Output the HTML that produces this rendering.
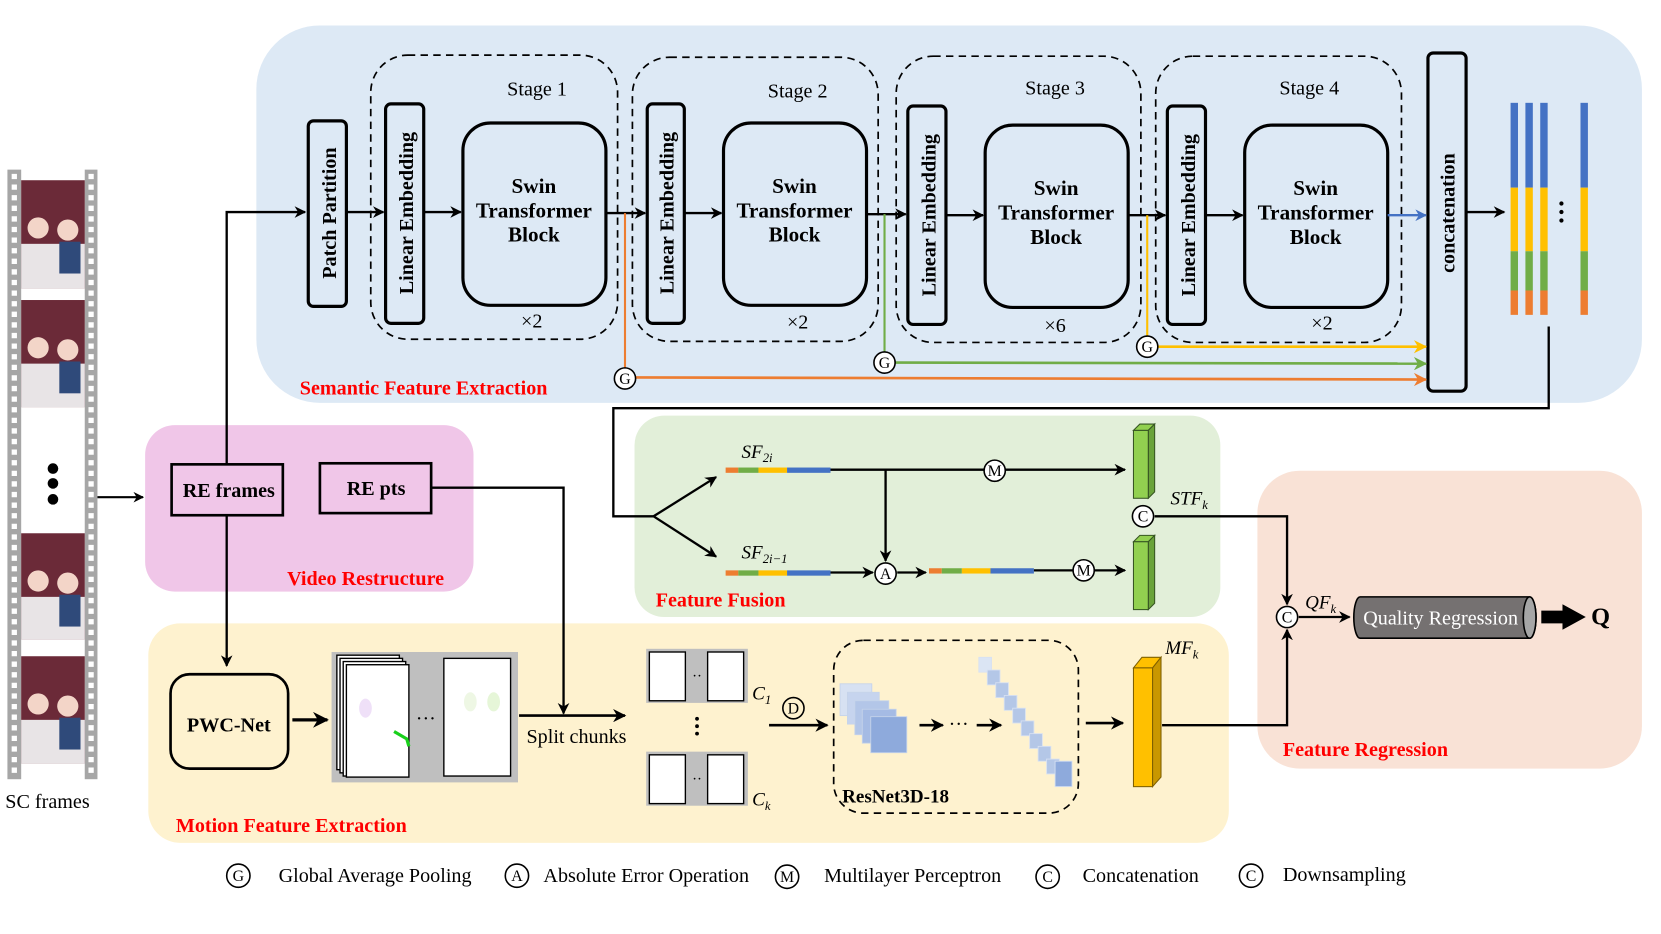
<!DOCTYPE html>
<html><head><meta charset="utf-8"><style>html,body{margin:0;padding:0;background:#fff}svg{display:block}</style></head>
<body>
<svg width="1661" height="934" viewBox="0 0 1568 881" preserveAspectRatio="none" xmlns="http://www.w3.org/2000/svg" font-family="Liberation Serif, serif">
<defs>
<marker id="ah" viewBox="0 0 10 10" refX="9" refY="5" markerWidth="5" markerHeight="5" orient="auto"><path d="M0,0 L10,5 L0,10 L3,5z" fill="#000"/></marker>
<marker id="ao" viewBox="0 0 10 10" refX="9" refY="5" markerWidth="5" markerHeight="5" orient="auto"><path d="M0,0 L10,5 L0,10 L3,5z" fill="#ed7d31"/></marker>
<marker id="ag" viewBox="0 0 10 10" refX="9" refY="5" markerWidth="5" markerHeight="5" orient="auto"><path d="M0,0 L10,5 L0,10 L3,5z" fill="#70ad47"/></marker>
<marker id="ay" viewBox="0 0 10 10" refX="9" refY="5" markerWidth="5" markerHeight="5" orient="auto"><path d="M0,0 L10,5 L0,10 L3,5z" fill="#ffc000"/></marker>
<marker id="ab" viewBox="0 0 10 10" refX="9" refY="5" markerWidth="5" markerHeight="5" orient="auto"><path d="M0,0 L10,5 L0,10 L3,5z" fill="#4472c4"/></marker>
</defs>
<rect x="242" y="24" width="1308" height="356" rx="60" fill="#dde9f5"/>
<rect x="137" y="401" width="310" height="157" rx="28" fill="#f0c6e8"/>
<rect x="140" y="588" width="1020" height="207" rx="30" fill="#fef2cf"/>
<rect x="599" y="392" width="553" height="190" rx="28" fill="#e2efd9"/>
<rect x="1187" y="444" width="363" height="281" rx="40" fill="#f9e2d6"/>

<rect x="7" y="160" width="13" height="575" fill="#a6a6a6"/>
<rect x="80" y="160" width="12" height="575" fill="#a6a6a6"/>
<g fill="none" stroke="#fff" stroke-width="5" stroke-dasharray="5 5">
<line x1="13.5" y1="164" x2="13.5" y2="732"/><line x1="86" y1="164" x2="86" y2="732"/>
</g>
<g>
<rect x="20" y="170" width="60" height="102" fill="#6b2a38"/><rect x="20" y="230" width="60" height="42" fill="#e8e4e6"/><circle cx="36" cy="215" r="10" fill="#f3d5c8"/><circle cx="64" cy="217" r="10" fill="#f3d5c8"/><rect x="56" y="228" width="20" height="30" fill="#2f4a7a"/>
<rect x="20" y="283" width="60" height="101" fill="#6b2a38"/><rect x="20" y="343" width="60" height="41" fill="#e8e4e6"/><circle cx="36" cy="328" r="10" fill="#f3d5c8"/><circle cx="64" cy="330" r="10" fill="#f3d5c8"/><rect x="56" y="341" width="20" height="30" fill="#2f4a7a"/>
<rect x="20" y="503" width="60" height="100" fill="#6b2a38"/><rect x="20" y="563" width="60" height="40" fill="#e8e4e6"/><circle cx="36" cy="548" r="10" fill="#f3d5c8"/><circle cx="64" cy="550" r="10" fill="#f3d5c8"/><rect x="56" y="561" width="20" height="30" fill="#2f4a7a"/>
<rect x="20" y="619" width="60" height="101" fill="#6b2a38"/><rect x="20" y="679" width="60" height="41" fill="#e8e4e6"/><circle cx="36" cy="664" r="10" fill="#f3d5c8"/><circle cx="64" cy="666" r="10" fill="#f3d5c8"/><rect x="56" y="677" width="20" height="30" fill="#2f4a7a"/>
</g>
<circle cx="50" cy="442" r="5"/><circle cx="50" cy="456" r="5"/><circle cx="50" cy="471" r="5"/>
<text x="5" y="762" font-size="19">SC frames</text>
<line x1="92" y1="469" x2="135" y2="469" stroke="#000" stroke-width="2" marker-end="url(#ah)"/>

<g fill="none" stroke="#000" stroke-width="1.6" stroke-dasharray="7 5">
<rect x="350" y="52" width="233" height="268" rx="35"/>
<rect x="597" y="54" width="232" height="268" rx="35"/>
<rect x="846" y="53" width="231" height="270" rx="35"/>
<rect x="1091" y="53" width="232" height="270" rx="35"/>
</g>
<g font-size="19" text-anchor="middle">
<text x="507" y="90">Stage 1</text><text x="753" y="92">Stage 2</text><text x="996" y="89">Stage 3</text><text x="1236" y="89">Stage 4</text>
<text x="502" y="309">×2</text><text x="753" y="310">×2</text><text x="996" y="313">×6</text><text x="1248" y="311">×2</text>
</g>
<g fill="none" stroke="#000" stroke-width="3">
<rect x="291" y="114" width="36" height="175" rx="5"/>
<rect x="364" y="98" width="36" height="207" rx="5"/>
<rect x="611" y="98" width="35" height="207" rx="5"/>
<rect x="857" y="100" width="36" height="206" rx="5"/>
<rect x="1102" y="100" width="36" height="206" rx="5"/>
<rect x="437" y="116" width="135" height="172" rx="26"/>
<rect x="683" y="116" width="135" height="172" rx="26"/>
<rect x="930" y="118" width="135" height="172" rx="26"/>
<rect x="1175" y="118" width="135" height="172" rx="26"/>
<rect x="1348" y="50" width="36" height="319" rx="5"/>
</g>
<g font-size="19" font-weight="bold">
<text transform="translate(317,201) rotate(-90)" text-anchor="middle">Patch Partition</text>
<text transform="translate(390,201) rotate(-90)" text-anchor="middle">Linear Embedding</text>
<text transform="translate(636,201) rotate(-90)" text-anchor="middle">Linear Embedding</text>
<text transform="translate(883,203) rotate(-90)" text-anchor="middle">Linear Embedding</text>
<text transform="translate(1128,203) rotate(-90)" text-anchor="middle">Linear Embedding</text>
<text transform="translate(1373,201) rotate(-90)" text-anchor="middle">concatenation</text>
</g>
<g font-size="20" font-weight="bold" text-anchor="middle">
<text x="504" y="182">Swin</text><text x="504" y="205">Transformer</text><text x="504" y="228">Block</text>
<text x="750" y="182">Swin</text><text x="750" y="205">Transformer</text><text x="750" y="228">Block</text>
<text x="997" y="184">Swin</text><text x="997" y="207">Transformer</text><text x="997" y="230">Block</text>
<text x="1242" y="184">Swin</text><text x="1242" y="207">Transformer</text><text x="1242" y="230">Block</text>
</g>
<g stroke="#000" stroke-width="2.2" fill="none" marker-end="url(#ah)">
<polyline points="214,438 214,200 288,200"/>
<line x1="327" y1="200" x2="362" y2="200"/>
<line x1="400" y1="200" x2="435" y2="200"/>
<line x1="572" y1="201" x2="609" y2="201"/>
<line x1="646" y1="201" x2="681" y2="201"/>
<line x1="818" y1="202" x2="855" y2="202"/>
<line x1="893" y1="203" x2="928" y2="203"/>
<line x1="1065" y1="203" x2="1100" y2="203"/>
<line x1="1138" y1="203" x2="1173" y2="203"/>
<line x1="1384" y1="200" x2="1420" y2="200"/>
</g>
<line x1="1310" y1="203" x2="1346" y2="203" stroke="#4472c4" stroke-width="2.2" marker-end="url(#ab)"/>
<polyline points="590,201 590,347" stroke="#ed7d31" stroke-width="2" fill="none"/>
<line x1="600" y1="356" x2="1346" y2="358" stroke="#ed7d31" stroke-width="2.5" marker-end="url(#ao)"/>
<polyline points="835,202 835,332" stroke="#70ad47" stroke-width="2" fill="none"/>
<line x1="845" y1="342" x2="1346" y2="343" stroke="#70ad47" stroke-width="2.5" marker-end="url(#ag)"/>
<polyline points="1083,203 1083,317" stroke="#ffc000" stroke-width="2" fill="none"/>
<line x1="1093" y1="327" x2="1346" y2="327" stroke="#ffc000" stroke-width="2.5" marker-end="url(#ay)"/>
<g fill="#fff" stroke="#000" stroke-width="1.5"><circle cx="590" cy="357" r="10"/><circle cx="835" cy="342" r="10"/><circle cx="1083" cy="327" r="10"/></g>
<g font-size="15" text-anchor="middle"><text x="590" y="362">G</text><text x="835" y="347">G</text><text x="1083" y="332">G</text></g>
<g>
<rect x="1426" y="97" width="7" height="80" fill="#4472c4"/><rect x="1426" y="177" width="7" height="60" fill="#ffc000"/><rect x="1426" y="237" width="7" height="37" fill="#70ad47"/><rect x="1426" y="274" width="7" height="23" fill="#ed7d31"/>
<rect x="1440" y="97" width="7" height="80" fill="#4472c4"/><rect x="1440" y="177" width="7" height="60" fill="#ffc000"/><rect x="1440" y="237" width="7" height="37" fill="#70ad47"/><rect x="1440" y="274" width="7" height="23" fill="#ed7d31"/>
<rect x="1454" y="97" width="7" height="80" fill="#4472c4"/><rect x="1454" y="177" width="7" height="60" fill="#ffc000"/><rect x="1454" y="237" width="7" height="37" fill="#70ad47"/><rect x="1454" y="274" width="7" height="23" fill="#ed7d31"/>
<rect x="1492" y="97" width="7" height="80" fill="#4472c4"/><rect x="1492" y="177" width="7" height="60" fill="#ffc000"/><rect x="1492" y="237" width="7" height="37" fill="#70ad47"/><rect x="1492" y="274" width="7" height="23" fill="#ed7d31"/>
<circle cx="1474" cy="192" r="2"/><circle cx="1474" cy="200" r="2"/><circle cx="1474" cy="208" r="2"/>
</g>
<text x="283" y="372" font-size="19" font-weight="bold" fill="#ff0000">Semantic Feature Extraction</text>
<polyline points="1462,308 1462,385 579,385 579,487 617,487" stroke="#000" stroke-width="2.2" fill="none"/>
<line x1="617" y1="487" x2="676" y2="450" stroke="#000" stroke-width="2.2" marker-end="url(#ah)"/>
<line x1="617" y1="487" x2="676" y2="525" stroke="#000" stroke-width="2.2" marker-end="url(#ah)"/>

<rect x="162" y="438" width="105" height="48" fill="none" stroke="#000" stroke-width="2.5"/>
<rect x="302" y="437" width="105" height="47" fill="none" stroke="#000" stroke-width="2.5"/>
<text x="216" y="469" font-size="19" font-weight="bold" text-anchor="middle">RE frames</text>
<text x="355" y="467" font-size="19" font-weight="bold" text-anchor="middle">RE pts</text>
<text x="271" y="552" font-size="19" font-weight="bold" fill="#ff0000">Video Restructure</text>
<polyline points="407,460 532,460 532,673" stroke="#000" stroke-width="2.2" fill="none" marker-end="url(#ah)"/>
<line x1="214" y1="486" x2="214" y2="628" stroke="#000" stroke-width="2.2" marker-end="url(#ah)"/>

<rect x="161" y="636" width="111" height="89" rx="18" fill="none" stroke="#000" stroke-width="2.5"/>
<text x="216" y="690" font-size="19" font-weight="bold" text-anchor="middle">PWC-Net</text>
<line x1="276" y1="679" x2="309" y2="679" stroke="#000" stroke-width="3" marker-end="url(#ah)"/>
<rect x="313" y="615" width="176" height="123" fill="#bfbfbf"/>
<g fill="#fff" stroke="#000" stroke-width="1.3">
<rect x="318" y="618" width="59" height="108"/><rect x="321" y="621" width="59" height="108"/><rect x="324" y="624" width="59" height="108"/><rect x="327" y="627" width="59" height="106"/>
<rect x="419" y="621" width="63" height="111"/>
</g>
<ellipse cx="345" cy="668" rx="6" ry="9" fill="#efe0f8"/><ellipse cx="444" cy="662" rx="6" ry="9" fill="#eef7e4"/><ellipse cx="466" cy="662" rx="6" ry="9" fill="#e6f6d8"/>
<path d="M372,690 L384,697 L386,704" stroke="#19d01b" stroke-width="3" fill="none"/>
<text x="402" y="684" font-size="19" text-anchor="middle">···</text>
<line x1="490" y1="675" x2="590" y2="675" stroke="#000" stroke-width="2.5" marker-end="url(#ah)"/>
<text x="497" y="701" font-size="19">Split chunks</text>
<rect x="610" y="612" width="96" height="51" fill="#bfbfbf"/><rect x="610" y="709" width="96" height="51" fill="#bfbfbf"/>
<g fill="#fff" stroke="#000" stroke-width="1.3">
<rect x="613" y="615" width="34" height="46"/><rect x="668" y="615" width="34" height="46"/>
<rect x="613" y="712" width="34" height="46"/><rect x="668" y="712" width="34" height="46"/>
</g>
<text x="658" y="642" font-size="14" text-anchor="middle">··</text><text x="658" y="739" font-size="14" text-anchor="middle">··</text>
<circle cx="658" cy="678" r="1.8"/><circle cx="658" cy="685" r="1.8"/><circle cx="658" cy="692" r="1.8"/>
<text x="710" y="660" font-size="18" font-style="italic">C<tspan font-size="12" dy="4">1</tspan></text>
<text x="710" y="760" font-size="18" font-style="italic">C<tspan font-size="12" dy="4">k</tspan></text>
<circle cx="749" cy="668" r="10" fill="none" stroke="#000" stroke-width="1.5"/><text x="749" y="673" font-size="15" text-anchor="middle">D</text>
<line x1="726" y1="684" x2="781" y2="684" stroke="#000" stroke-width="2.5" marker-end="url(#ah)"/>
<rect x="787" y="604" width="231" height="163" rx="28" fill="none" stroke="#000" stroke-width="1.6" stroke-dasharray="7 5"/>
<text x="795" y="757" font-size="18" font-weight="bold">ResNet3D-18</text>
<g stroke="#c5d3ea" stroke-width="0.8">
<rect x="793" y="645" width="30" height="30" fill="#d7e1f2"/><rect x="800" y="653" width="30" height="30" fill="#c6d4ee"/><rect x="807" y="661" width="32" height="32" fill="#b3c6e8"/><rect x="814" y="669" width="32" height="32" fill="#a5bbe4"/><rect x="822" y="676" width="34" height="34" fill="#8eaadc"/>
</g>
<g fill="#b4c7e7" stroke="#d7e1f2" stroke-width="0.8">
<rect x="924" y="620" width="12" height="14" fill="#dbe5f4"/><rect x="932" y="632" width="12" height="14"/><rect x="940" y="644" width="12" height="14"/><rect x="948" y="656" width="12" height="14"/><rect x="956" y="668" width="12" height="14"/><rect x="964" y="680" width="12" height="14"/><rect x="972" y="692" width="12" height="14"/><rect x="980" y="704" width="12" height="14"/><rect x="988" y="716" width="12" height="14"/><rect x="996" y="718" width="16" height="24" fill="#8eaadc"/>
</g>
<line x1="868" y1="684" x2="890" y2="684" stroke="#000" stroke-width="2.5" marker-end="url(#ah)"/>
<text x="905" y="689" font-size="19" text-anchor="middle">···</text>
<line x1="922" y1="684" x2="945" y2="684" stroke="#000" stroke-width="2.5" marker-end="url(#ah)"/>
<line x1="1025" y1="682" x2="1060" y2="682" stroke="#000" stroke-width="2.5" marker-end="url(#ah)"/>
<path d="M1070,630 L1078,620 L1096,620 L1088,630z" fill="#ffc000" stroke="#7f6000" stroke-width="1"/>
<path d="M1088,630 L1096,620 L1096,733 L1088,742z" fill="#c99700" stroke="#7f6000" stroke-width="1"/>
<rect x="1070" y="630" width="18" height="112" fill="#ffc000" stroke="#7f6000" stroke-width="1"/>
<text x="1100" y="617" font-size="18" font-style="italic">MF<tspan font-size="12" dy="4">k</tspan></text>
<polyline points="1097,684 1215,684 1215,594" stroke="#000" stroke-width="2.2" fill="none" marker-end="url(#ah)"/>
<text x="166" y="785" font-size="19" font-weight="bold" fill="#ff0000">Motion Feature Extraction</text>

<g>
<rect x="685" y="441" width="12" height="5" fill="#ed7d31"/><rect x="697" y="441" width="19" height="5" fill="#70ad47"/><rect x="716" y="441" width="27" height="5" fill="#ffc000"/><rect x="743" y="441" width="41" height="5" fill="#4472c4"/>
<rect x="685" y="538" width="12" height="5" fill="#ed7d31"/><rect x="697" y="538" width="19" height="5" fill="#70ad47"/><rect x="716" y="538" width="27" height="5" fill="#ffc000"/><rect x="743" y="538" width="41" height="5" fill="#4472c4"/>
<rect x="877" y="536" width="12" height="5" fill="#ed7d31"/><rect x="889" y="536" width="19" height="5" fill="#70ad47"/><rect x="908" y="536" width="27" height="5" fill="#ffc000"/><rect x="935" y="536" width="41" height="5" fill="#4472c4"/>
</g>
<text x="700" y="432" font-size="18" font-style="italic">SF<tspan font-size="12" dy="4">2i</tspan></text>
<text x="700" y="527" font-size="18" font-style="italic">SF<tspan font-size="12" dy="4">2i−1</tspan></text>
<g stroke="#000" stroke-width="2.2" fill="none">
<line x1="784" y1="443" x2="1062" y2="443" marker-end="url(#ah)"/>
<line x1="836" y1="443" x2="836" y2="529" marker-end="url(#ah)"/>
<line x1="784" y1="540" x2="824" y2="540" marker-end="url(#ah)"/>
<line x1="847" y1="540" x2="874" y2="540" marker-end="url(#ah)"/>
<line x1="976" y1="538" x2="1062" y2="538" marker-end="url(#ah)"/>
<polyline points="1090,487 1215,487 1215,570" marker-end="url(#ah)"/>
</g>
<g fill="#fff" stroke="#000" stroke-width="1.5"><circle cx="939" cy="444" r="10"/><circle cx="836" cy="541" r="10"/><circle cx="1023" cy="538" r="10"/><circle cx="1079" cy="487" r="10"/><circle cx="1215" cy="582" r="10"/></g>
<g font-size="15" text-anchor="middle"><text x="939" y="449">M</text><text x="836" y="546">A</text><text x="1023" y="543">M</text><text x="1079" y="492">C</text><text x="1215" y="587">C</text></g>
<g stroke="#375623" stroke-width="1">
<path d="M1070,406 L1076,400 L1090,400 L1084,406z" fill="#92d050"/><path d="M1084,406 L1090,400 L1090,464 L1084,470z" fill="#6aa33a"/><rect x="1070" y="406" width="14" height="64" fill="#92d050"/>
<path d="M1070,511 L1076,505 L1090,505 L1084,511z" fill="#92d050"/><path d="M1084,511 L1090,505 L1090,569 L1084,575z" fill="#6aa33a"/><rect x="1070" y="511" width="14" height="64" fill="#92d050"/>
</g>
<text x="1105" y="476" font-size="18" font-style="italic">STF<tspan font-size="12" dy="4">k</tspan></text>
<text x="619" y="572" font-size="19" font-weight="bold" fill="#ff0000">Feature Fusion</text>

<text x="1232" y="574" font-size="18" font-style="italic">QF<tspan font-size="12" dy="4">k</tspan></text>
<line x1="1226" y1="582" x2="1274" y2="582" stroke="#000" stroke-width="2.2" marker-end="url(#ah)"/>
<path d="M1284,563 L1444,563 A6,19.5 0 0 1 1444,602 L1284,602 A6,19.5 0 0 1 1284,563z" fill="#757171" stroke="#000" stroke-width="1.5"/>
<ellipse cx="1444" cy="582.5" rx="6" ry="19.5" fill="#a6a6a6" stroke="#000" stroke-width="1.5"/>
<text x="1360" y="589" font-size="19" fill="#fff" text-anchor="middle">Quality Regression</text>
<path d="M1455,576 L1475,576 L1475,570 L1497,582 L1475,594 L1475,588 L1455,588z" fill="#000"/>
<text x="1502" y="589" font-size="23" font-weight="bold">Q</text>
<text x="1211" y="713" font-size="19" font-weight="bold" fill="#ff0000">Feature Regression</text>

<g fill="none" stroke="#000" stroke-width="1.5"><circle cx="225" cy="826" r="11"/><circle cx="488" cy="826" r="11"/><circle cx="743" cy="827" r="11"/><circle cx="989" cy="827" r="11"/><circle cx="1181" cy="826" r="11"/></g>
<g font-size="15" text-anchor="middle"><text x="225" y="831">G</text><text x="488" y="831">A</text><text x="743" y="832">M</text><text x="989" y="832">C</text><text x="1181" y="831">C</text></g>
<g font-size="19"><text x="263" y="832">Global Average Pooling</text><text x="513" y="832">Absolute Error Operation</text><text x="778" y="832">Multilayer Perceptron</text><text x="1022" y="832">Concatenation</text><text x="1211" y="831">Downsampling</text></g>
</svg>
</body></html>
